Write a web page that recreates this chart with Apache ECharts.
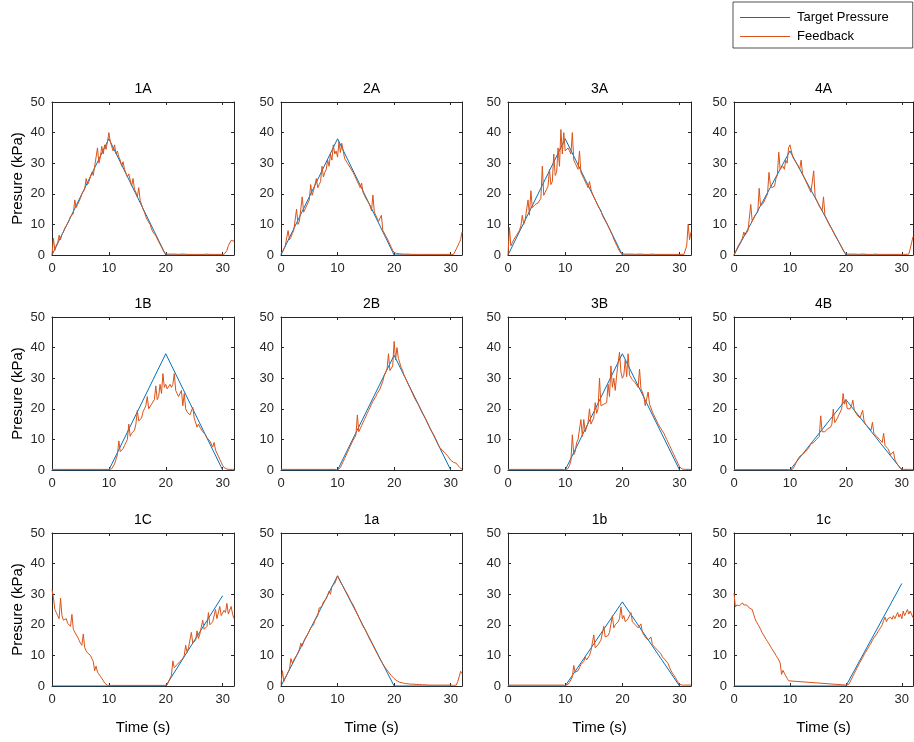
<!DOCTYPE html>
<html>
<head>
<meta charset="utf-8">
<script src="https://cdn.jsdelivr.net/npm/echarts@6/dist/echarts.min.js"></script>
<style>
html,body{margin:0;padding:0;background:#fff;}
#chart{width:914px;height:742px;}
</style>
</head>
<body>
<div id="chart"></div>
<script>
// ---------------- DATA ----------------
const panels = ['1A','2A','3A','4A','1B','2B','3B','4B','1C','1a','1b','1c'];
const xTicks = [0, 10, 20, 30];
const yTicks = [0, 10, 20, 30, 40, 50];
const SAMPLE_STEP = 0.25; // feedback sampled every 0.25 s, from 0 to 32 s

// Target pressure breakpoints [time, kPa]
const target_1A = [[0,0],[10,38],[20,0],[30,0]];
const target_2A = [[0,0],[10,38],[20,0],[30,0]];
const target_3A = [[0,0],[10,38],[20,0],[30,0]];
const target_4A = [[0,0],[10,34],[20,0],[30,0]];
const target_1B = [[0,0],[10,0],[20,38],[30,0]];
const target_2B = [[0,0],[10,0],[20,37.5],[30,0]];
const target_3B = [[0,0],[10,0],[20,38],[30,0]];
const target_4B = [[0,0],[10,0],[20,23],[30,0]];
const target_1C = [[0,0],[20,0],[30,29.5]];
const target_1a = [[0,0],[10,36],[20,0],[30,0]];
const target_1b = [[0,0],[10,0],[20,27.5],[30,0]];
const target_1c = [[0,0],[20,0],[30,33.5]];

// Feedback pressure (kPa), one value per 0.25 s (4 per group = 1 s)
const feedback_1A = [
0,5.5,1.5,3.2, 4,6.5,5,6.8, 7.5,8.8,9.5,10, 11.2,12.5,12.2,13.5,
18,15.5,16.5,17.5, 18.5,20,19.8,21.5, 25,23,24,25.5, 27,26,29,28.5,
35,30,32,35.5, 33,36,34.5,37, 40,37,36.5,34, 36,33,34,32,
31,29,30.5,28, 28,25.5,26.5,24.5, 22.5,25,21.5,20.5, 19,22,17.8,16.5,
15,14,12.5,11.5, 11,10,8.5,7.5, 7.2,6.3,5.3,4.4, 3.5,2.6,1.6,0.8,
0.4,0.3,0.3,0.3, 0.3,0.3,0.2,0.3, 0.3,0.2,0.2,0.3, 0.2,0.3,0.2,0.2,
0.3,0.2,0.2,0.2, 0.2,0.2,0.3,0.2, 0.2,0.2,0.2,0.2, 0.2,0.3,0.2,0.2,
0.2,0.2,0.2,0.2, 0.2,0.2,0.2,0.2, 0.2,0.2,0.3,1.5, 3,4,4.8,5.2,
4.5];
const feedback_2A = [
0.5,1.2,2,3, 3.5,8,5,5.8, 7,8,8.5,15, 10,11,11.5,19,
14,15,16,17, 18,23,19.5,21, 20.5,25,22,23, 24,29,25.5,27,
28,31,29,33, 31,36,33,34, 32,37,33.5,36.5, 34,31.5,31,30,
29.5,28.5,28,27, 26,25,24,23, 22,23.5,20.5,19.5, 18.5,18,17,16,
14.5,19.6,14,13, 12,11,10.5,13, 8,7.2,6.3,5.5, 4.5,3.5,2.5,1.5,
0.8,0.6,0.5,0.4, 0.4,0.3,0.3,0.3, 0.3,0.3,0.3,0.2, 0.2,0.3,0.2,0.2,
0.2,0.2,0.2,0.2, 0.2,0.2,0.2,0.2, 0.2,0.2,0.2,0.2, 0.2,0.2,0.2,0.2,
0.2,0.2,0.2,0.2, 0.2,0.2,0.2,0.2, 0.2,0.2,0.2,0.5, 2,3,4,5,
7.5];
const feedback_3A = [
0,9,3,4, 5,5.5,6.5,7, 8,9.5,13,10, 11.5,12,18,13,
21,15.5,16,16.5, 16.5,17,17.5,18.5, 29,19.5,20.5,21.5, 22.5,28,23,24,
33,26,27,35, 29,41,33,40, 34,33.5,35,34, 33,40,31,30,
29.5,28,34,27, 26.5,25,25.5,23, 22,24,21.5,20, 19,18,17,16,
15.5,14.5,13,12, 11.5,10.5,9.5,8.5, 7.5,6.5,5.2,4.2, 3.2,2.2,1.3,0.6,
0.4,0.3,0.3,0.3, 0.3,0.3,0.3,0.3, 0.3,0.2,0.3,0.3, 0.2,0.3,0.2,0.2,
0.3,0.2,0.2,0.2, 0.2,0.3,0.2,0.2, 0.2,0.2,0.2,0.2, 0.2,0.2,0.3,0.2,
0.2,0.2,0.2,0.2, 0.2,0.2,0.2,0.2, 0.2,0.2,0.2,0.2, 0.2,3,10,5,
7.5];
const feedback_4A = [
0,1,2,3, 3.5,4.5,5.5,7.5, 6.5,7,8,8.5, 16.5,11,12,13,
12.5,14,21.8,16, 16.5,17,18,19, 20,27,23,22, 22,22.5,25,26,
33.6,28,27.5,29, 28,31,30,35, 36,34,32,31.5, 30.5,30,29,28,
31,26.5,25.5,24.5, 23.5,22.5,21.5,20.5, 20,27.5,19,18, 17,16,15.5,14.5,
19,13,12,11, 10,9.2,8.4,7.5, 6.6,5.8,5,4.2, 3.3,2.5,1.6,0.8,
0.4,0.3,0.3,0.3, 0.3,0.3,0.3,0.3, 0.3,0.2,0.3,0.3, 0.2,0.3,0.2,0.2,
0.3,0.2,0.2,0.2, 0.2,0.3,0.2,0.2, 0.2,0.2,0.2,0.2, 0.2,0.2,0.3,0.2,
0.2,0.2,0.2,0.2, 0.2,0.2,0.2,0.2, 0.2,0.2,0.2,0.2, 0.2,0.3,2,4,
6];
const feedback_1B = [
0.2,0.2,0.2,0.2, 0.2,0.2,0.2,0.2, 0.2,0.2,0.2,0.2, 0.2,0.2,0.2,0.2,
0.2,0.2,0.2,0.2, 0.2,0.2,0.2,0.2, 0.2,0.2,0.2,0.2, 0.2,0.2,0.2,0.2,
0.2,0.2,0.2,0.2, 0.2,0.2,0.2,0.2, 0.2,0.2,0.4,1, 2,3.5,5,9.5,
6,6.5,7,8, 9,10,15,11, 12,11.5,13,15, 19.5,16,15.5,17,
19,20,21,24, 20,20.5,21.5,22, 23,27.5,23,24, 28,25,31.5,27,
28,26.5,27,28, 27,28,31.5,26, 25,24,23.5,26, 21,25,20,19,
18.5,18,17.5,20.5, 17,16.5,14,15, 14,13.5,12.5,12, 11.5,10.5,10,9.5,
8.5,7.5,9,6.5, 5.5,4.5,3.5,2.5, 1.5,0.8,0.4,0.3, 0.2,0.2,0.2,0.2,
0.2];
const feedback_2B = [
0.2,0.2,0.2,0.2, 0.2,0.2,0.2,0.2, 0.2,0.2,0.2,0.2, 0.2,0.2,0.2,0.2,
0.2,0.2,0.2,0.2, 0.2,0.2,0.2,0.2, 0.2,0.2,0.2,0.2, 0.2,0.2,0.2,0.2,
0.2,0.2,0.2,0.2, 0.2,0.2,0.2,0.2, 0,0.2,0.8,1.8, 2.8,3.8,4.8,5.8,
6.8,7.8,8.8,9.8, 10.5,11.5,18,12.5, 13.5,14.5,15.5,16.5, 17.5,18.5,19.5,20.5,
21.5,22.5,23,24, 25,25.5,26.5,27, 29,31,32,33, 38,32.5,33,34,
42,36,40,36.5, 35,33.5,32.5,31, 30,29.5,28,27, 26,25,24.5,23,
22.5,21.5,20.5,19.5, 18.5,18,17,16, 15,14,13,12.5, 11.5,10.5,9.5,8.5,
7.5,7,6.5,6, 5.5,5,4.5,4, 3.2,2.8,2.5,2.5, 2.2,1.5,1,0.6,
0.3];
const feedback_3B = [
0.2,0.2,0.2,0.2, 0.2,0.2,0.2,0.2, 0.2,0.2,0.2,0.2, 0.2,0.2,0.2,0.2,
0.2,0.2,0.2,0.2, 0.2,0.2,0.2,0.2, 0.2,0.2,0.2,0.2, 0.2,0.2,0.2,0.2,
0.2,0.2,0.2,0.2, 0.2,0.2,0.2,0.2, 0,0.1,0.5,1.5, 3,11.5,5,6,
9,10,9.5,16.5, 11,16.5,12.5,13, 15.5,20,15,16, 17,22,18.5,20,
30,21,20.5,21.5, 21,22,28,24, 34,27,30,26, 31,35,38.5,32,
30,31,36,30.5, 38,31,30.5,29.5, 30,28.5,28,27, 33,26.5,25.5,24,
21,20.5,25.5,21.5, 22,19,18,17, 16,15,14.5,13.5, 13,12,11,10,
9,8,7,6, 5,4,3,2, 1,0.5,0.3,0.2, 0.2,0.2,0.2,0.2,
0.2];
const feedback_4B = [
0.1,0.1,0.1,0.1, 0.1,0.1,0.1,0.1, 0.1,0.1,0.1,0.1, 0.1,0.1,0.1,0.1,
0.1,0.1,0.1,0.1, 0.1,0.1,0.1,0.1, 0.1,0.1,0.1,0.1, 0.1,0.1,0.1,0.1,
0.1,0.1,0.1,0.1, 0.1,0.1,0.1,0.1, 0,0,0.3,1, 2,3,3.8,4.5,
4.5,5,5.5,6, 6.5,7,7.5,8.5, 8.5,9,9.5,10, 10.5,11,17.7,12.5,
13,12.5,13,13.5, 14,14,15,19.9, 15.5,16,17,18, 18.5,20,25,21.5,
23,20,20.5,20, 21,22.8,19.5,19, 18,17.5,17,16.5, 19.5,16,15,14.5,
14,13.5,13,15.6, 12,11.5,11,10.5, 10,9.5,9,12, 8,7.5,7,6.5,
5,4.5,6,3.5, 2.5,1.8,1.2,0.6, 0.4,0.2,0.2,0.2, 0.2,0.2,0.2,0.2,
0.2];
const feedback_1C = [
31.5,29,25,24, 23,22,28.7,23, 21.5,21,22,20.5, 20,19.5,23.4,18.5,
17.6,17,16,15, 14,13.3,17,12.5, 11.5,10.8,10.5,10, 9,8,5,6.5,
4.5,4,3.2,2.5, 1.8,1,0.4,0.2, 0.2,0.2,0.2,0.2, 0.2,0.2,0.2,0.2,
0.2,0.2,0.2,0.2, 0.2,0.2,0.2,0.2, 0.2,0.2,0.2,0.2, 0.2,0.2,0.2,0.2,
0.2,0.2,0.2,0.2, 0.2,0.2,0.2,0.2, 0.2,0.2,0.2,0.2, 0.2,0.2,0.2,0.2,
0.2,0.4,1.5,2.5, 3.5,8.2,6,6.5, 7,7.5,8,8.5, 9,10,13.3,11,
12.5,13,17.5,14, 14.5,15,18,15.5, 17,17.5,21.5,18.5, 19,19.5,24,20,
20.5,21,21.5,25, 22,22.5,26,23, 23.5,24.7,24,27, 23.5,24,26,23.5,
22];
const feedback_1a = [
0.5,5,1.5,2.5, 3.5,4.5,5.5,9, 7.5,8.5,9,10, 10.8,12,14,13,
14.5,15.5,16,17, 18,19,19.5,20, 21.5,22,23,25.5, 25,26,27.5,27,
28.5,29,31,30, 32.5,32,33.5,34, 36,35,34,33.5, 32.5,31.5,31,30,
29,28,27.5,26.5, 25.5,24.5,23.5,22.5, 21.5,20.5,19.5,18.8, 18,17,16,15,
14.2,13.3,12.4,11.5, 10.6,9.7,8.8,8, 7.2,6.5,5.8,5.2, 4.6,4,3.4,2.9,
2.4,2,1.7,1.4, 1.2,1.1,1,0.9, 0.8,0.8,0.7,0.7, 0.6,0.6,0.6,0.5,
0.5,0.5,0.5,0.4, 0.4,0.4,0.4,0.4, 0.3,0.3,0.3,0.3, 0.3,0.3,0.3,0.3,
0.3,0.3,0.3,0.3, 0.3,0.3,0.3,0.3, 0.3,0.2,0.2,0.2, 0.3,1.5,3,4.8,
4];
const feedback_1b = [
0.3,0.3,0.3,0.3, 0.3,0.3,0.3,0.3, 0.3,0.3,0.3,0.3, 0.3,0.3,0.3,0.3,
0.3,0.3,0.3,0.3, 0.3,0.3,0.3,0.3, 0.3,0.3,0.3,0.3, 0.3,0.3,0.3,0.3,
0.3,0.3,0.3,0.3, 0.3,0.3,0.3,0.3, 0.2,0.2,0.5,1.2, 2,3,6.7,4.5,
4.5,5,6,7, 7.5,8,9.5,8.5, 9,10,11.5,12, 16.7,12.5,13,13.5,
14,15,15.5,19.5, 16,16,16.5,17.5, 18,23,19,20, 20.5,21,22,25.8,
22,23,21,20.5, 22,21.5,24,21, 20.5,20,19.5,19, 18.5,20.3,17.5,17,
16,15.5,15,14.5, 16,13.5,13,12.5, 12,11.5,11,10.5, 9.5,9,8.5,8,
7.3,6,5,4.2, 3.5,2.8,2,1.2, 0.5,0.3,0.3,0.3, 0.3,0.3,0.3,0.3,
0.3];
const feedback_1c = [
30.3,25.8,26.5,26, 26.2,25.8,27.2,26.5, 26,26.5,26,25.5, 25.8,25,23.5,22,
21,20.2,19.5,18.5, 17.5,17,16,15.2, 14.5,13.8,13,12.2, 11.6,10.8,10,9.3,
8.5,7.5,3.8,5.1, 4.2,3.3,2.5,1.7, 1.1,null,null,null, null,null,null,null,
null,null,null,null, null,null,null,null, null,null,null,null, null,null,null,null,
null,null,null,null, null,null,null,null, null,null,null,null, null,null,null,null,
0.3,0.1,0.5,1.3, 2.3,3.2,4.1,5, 6,6.8,7.7,8.5, 9.3,10.2,11,11.6,
12.5,13.3,14,15, 15.7,16.3,17,17.8, 18.5,19.2,20,21.4, 22.5,21,22,21.5,
22.5,21.8,23,22, 22.5,24,22.5,23.5, 22,24.5,23,24, 25,23.5,24.5,24,
22.3];

const targets = [target_1A,target_2A,target_3A,target_4A,target_1B,target_2B,target_3B,target_4B,target_1C,target_1a,target_1b,target_1c];
const feedbacks = [feedback_1A,feedback_2A,feedback_3A,feedback_4A,feedback_1B,feedback_2B,feedback_3B,feedback_4B,feedback_1C,feedback_1a,feedback_1b,feedback_1c];

// ---------------- LAYOUT / STYLE ----------------
const FONT = "'Liberation Sans', Arial, Helvetica, sans-serif";
const AX = '#262626';
const BLUE = '#0072BD';
const ORANGE = '#D95319';
const colLeft = [52, 281, 508, 734];
const colWidth = [182, 181, 183, 179];
const rowTop = [102, 317, 533];
const rowHeight = 153;

function toPairs(values) {
  return values.map((v, k) => [k * SAMPLE_STEP, v]);
}

const grid = [], xAxis = [], yAxis = [], title = [], series = [];

panels.forEach((name, i) => {
  const r = Math.floor(i / 4), c = i % 4;
  grid.push({ left: colLeft[c], top: rowTop[r], width: colWidth[c], height: rowHeight, show: false });
  const tickStyle = { show: true, inside: true, length: 3, lineStyle: { color: AX, width: 1 } };
  const lineStyle = { show: true, onZero: false, lineStyle: { color: AX, width: 1 } };
  xAxis.push({
    type: 'value', gridIndex: i, min: 0, max: 32, position: 'bottom',
    axisLine: lineStyle,
    axisTick: Object.assign({ customValues: xTicks }, tickStyle),
    axisLabel: { show: true, customValues: xTicks, color: AX, fontSize: 13, fontFamily: FONT, margin: 7 },
    splitLine: { show: false },
    name: r === 2 ? 'Time (s)' : '', nameLocation: 'middle', nameGap: 34,
    nameTextStyle: { color: '#000', fontSize: 15, fontFamily: FONT }
  });
  xAxis.push({
    type: 'value', gridIndex: i, min: 0, max: 32, position: 'top',
    axisLine: lineStyle,
    axisTick: Object.assign({ customValues: xTicks }, tickStyle),
    axisLabel: { show: false }, splitLine: { show: false }
  });
  yAxis.push({
    type: 'value', gridIndex: i, min: 0, max: 50, position: 'left',
    axisLine: lineStyle,
    axisTick: Object.assign({ customValues: yTicks }, tickStyle),
    axisLabel: { show: true, customValues: yTicks, color: AX, fontSize: 13, fontFamily: FONT, margin: 7 },
    splitLine: { show: false },
    name: c === 0 ? 'Presure (kPa)' : '', nameLocation: 'middle', nameGap: 27,
    nameTextStyle: { color: '#000', fontSize: 15, fontFamily: FONT }
  });
  yAxis.push({
    type: 'value', gridIndex: i, min: 0, max: 50, position: 'right',
    axisLine: lineStyle,
    axisTick: Object.assign({ customValues: yTicks }, tickStyle),
    axisLabel: { show: false }, splitLine: { show: false }
  });
  title.push({
    text: name, left: colLeft[c] + colWidth[c] / 2, top: rowTop[r] - 20,
    textAlign: 'center', padding: 0,
    textStyle: { fontSize: 14, fontWeight: 'normal', color: '#000', fontFamily: FONT }
  });
  series.push({
    type: 'line', name: 'Target Pressure', xAxisIndex: 2 * i, yAxisIndex: 2 * i,
    data: targets[i], symbol: 'none', z: 2,
    lineStyle: { color: BLUE, width: 1 }, itemStyle: { color: BLUE }
  });
  series.push({
    type: 'line', name: 'Feedback', xAxisIndex: 2 * i, yAxisIndex: 2 * i,
    data: toPairs(feedbacks[i]), symbol: 'none', connectNulls: true, z: 3,
    lineStyle: { color: ORANGE, width: 1 }, itemStyle: { color: ORANGE }
  });
});

const chart = echarts.init(document.getElementById('chart'), null, { renderer: 'canvas' });
chart.setOption({
  backgroundColor: '#fff',
  animation: false,
  title: title,
  legend: {
    data: [
      { name: 'Target Pressure', icon: 'rect', itemStyle: { color: BLUE } },
      { name: 'Feedback', icon: 'rect', itemStyle: { color: ORANGE } }
    ],
    orient: 'vertical', left: 733, top: 2,
    itemWidth: 50, itemHeight: 1, itemGap: 6,
    padding: [9, 24, 5, 7],
    borderColor: AX, borderWidth: 0.8,
    selectedMode: false,
    textStyle: { fontSize: 13, color: '#000', fontFamily: FONT, padding: [0, 0, 0, 2] }
  },
  grid: grid, xAxis: xAxis, yAxis: yAxis, series: series
});
</script>
</body>
</html>
